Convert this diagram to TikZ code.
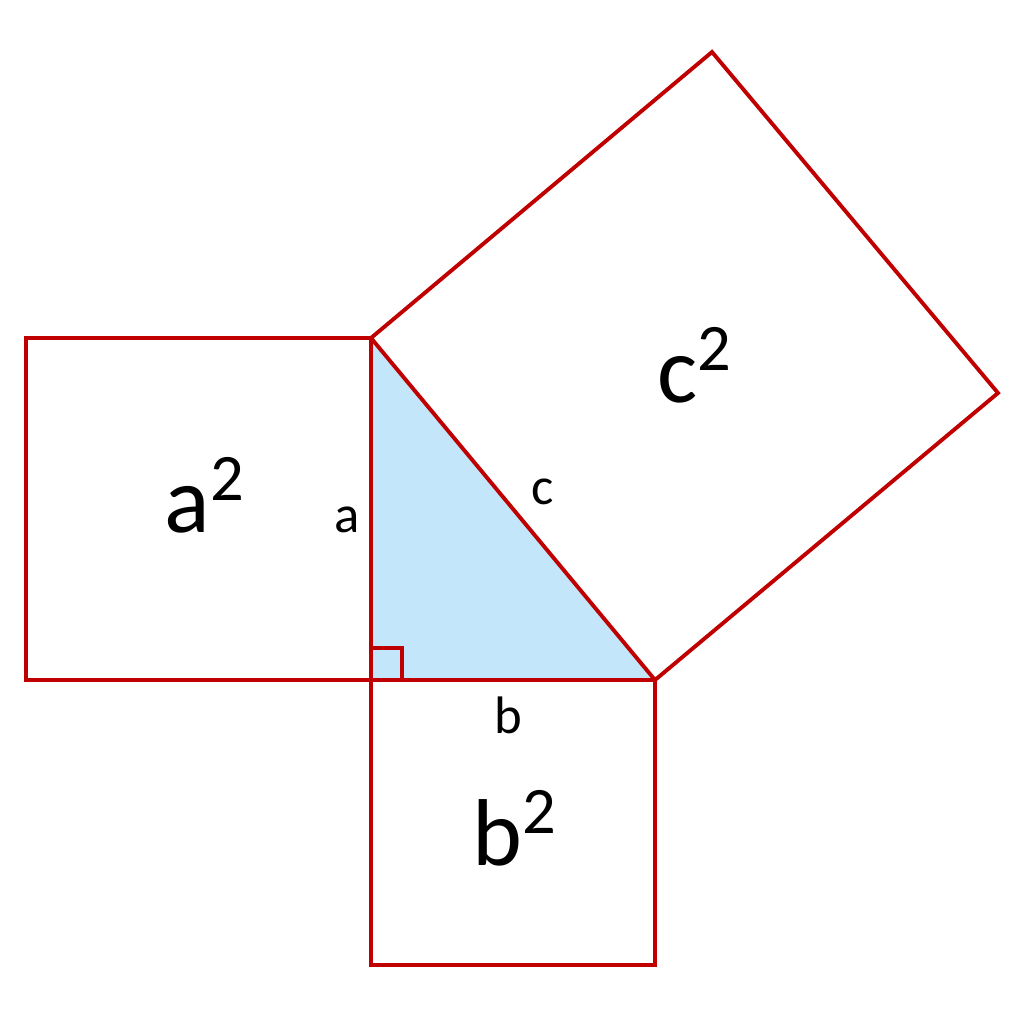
\documentclass[tikz,border=0pt]{standalone}
\usepackage{fontspec}
\setmainfont{Carlito}
\definecolor{edge}{RGB}{192,0,0}
\definecolor{tri}{RGB}{196,230,250}
\begin{document}
\begin{tikzpicture}[x=0.01cm,y=-0.01cm,
  sq/.style={draw=edge,line width=1.1pt,line join=miter},
  big/.style={font=\fontsize{27}{30}\selectfont},
  small/.style={font=\fontsize{15}{18}\selectfont}]
\useasboundingbox (0,0) rectangle (1024,1024);
\coordinate (C) at (371,680);
\coordinate (A) at (371,338);
\coordinate (B) at (655,680);
\coordinate (D) at (998,393);
\coordinate (E) at (712,52);
\fill[tri] (A) -- (C) -- (B) -- cycle;
\draw[sq] (26,338) rectangle (C);
\draw[sq] (C) rectangle (655,965);
\draw[sq] (A) -- (B) -- (D) -- (E) -- cycle;
\draw[sq] (371,648) -- (402,648) -- (402,680);
\node[big] (la) at (205,495) {a\textsuperscript{2}};
\node[big] (lb) at (515,828) {b\textsuperscript{2}};
\node[big] (lc) at (695,365) {c\textsuperscript{2}};
\node[small] (sa) at (347,520) {a};
\node[small] (sb) at (508,715) {b};
\node[small] (sc) at (543,492) {c};
\end{tikzpicture}
\end{document}
